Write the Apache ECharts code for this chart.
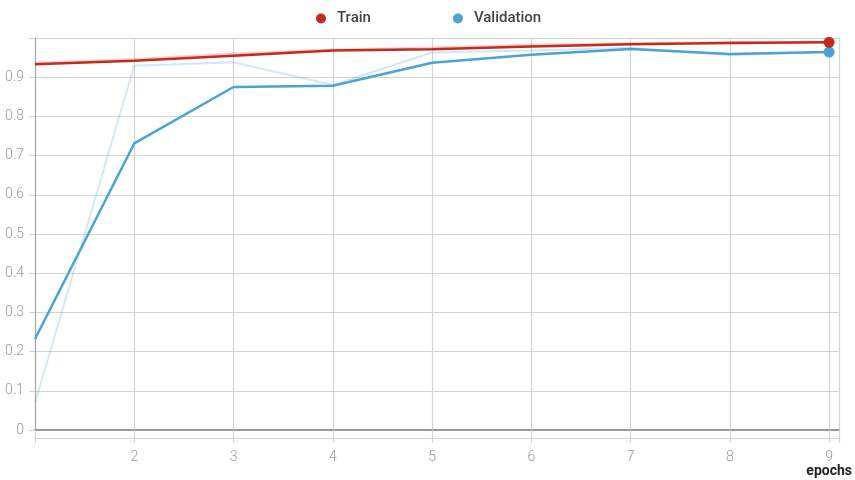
<!DOCTYPE html>
<html>
<head>
<meta charset="utf-8">
<script src="https://cdn.jsdelivr.net/npm/echarts@6/dist/echarts.min.js"></script>
<style>
  html, body { margin: 0; padding: 0; background: #fff; }
  #chart { width: 855px; height: 480px; }
</style>
</head>
<body>
<div id="chart"></div>
<script>
// Training curves: raw values (faint) and smoothed values (solid) per epoch
const epochs = [1, 2, 3, 4, 5, 6, 7, 8, 9];
const trainRaw = [0.936, 0.946, 0.960, 0.970, 0.975, 0.982, 0.986, 0.989, 0.990];
const trainSmoothed = [0.933, 0.942, 0.955, 0.968, 0.971, 0.978, 0.984, 0.987, 0.989];
const valRaw = [0.069, 0.929, 0.938, 0.880, 0.963, 0.968, 0.975, 0.956, 0.965];
const valSmoothed = [0.232, 0.731, 0.875, 0.878, 0.937, 0.957, 0.972, 0.959, 0.964];
const yTicks = [0, 0.1, 0.2, 0.3, 0.4, 0.5, 0.6, 0.7, 0.8, 0.9];
const xTicks = [2, 3, 4, 5, 6, 7, 8, 9];

const TRAIN = '#c42a1d';
const VAL = '#4aa3d4';
const GRID = '#d4d4d4';
const pair = (ys) => epochs.map((x, i) => [x, ys[i]]);
const lastOnly = (n) => (v, p) => (p.dataIndex === n - 1 ? 11 : 0);

const chart = echarts.init(document.getElementById('chart'), null, { renderer: 'canvas' });

const axisLabelStyle = { color: '#9a9a9a', fontSize: 14, fontWeight: 300, fontFamily: 'Roboto' };

chart.setOption({
  animation: false,
  legend: {
    data: ['Train', 'Validation'],
    top: 6,
    left: 311,
    icon: 'circle',
    itemWidth: 10,
    itemHeight: 10,
    itemGap: 82,
    textStyle: {
      color: '#444', fontSize: 15, fontWeight: 500, fontFamily: 'Roboto',
      padding: [0, 0, 0, 6]
    }
  },
  grid: { left: 35, right: 15, top: 38, bottom: 50 },
  xAxis: [
    {
      type: 'value', min: 1, max: 9.1, interval: 1,
      axisLine: { show: true, lineStyle: { color: '#999', width: 2 } },
      axisTick: { show: true, inside: false, length: 13, lineStyle: { color: GRID, width: 1.2 } },
      axisLabel: { show: false },
      splitLine: { show: true, lineStyle: { color: GRID, width: 1.2 } }
    },
    {
      type: 'value', min: 1, max: 9.1, interval: 1, position: 'bottom', offset: 8,
      axisLine: { show: true, lineStyle: { color: GRID, width: 1 } },
      axisTick: { show: false },
      splitLine: { show: false },
      axisLabel: {
        ...axisLabelStyle, margin: 12,
        formatter: (v) => (xTicks.includes(v) ? String(v) : '')
      },
      name: 'epochs',
      nameLocation: 'end',
      nameGap: 13,
      nameTextStyle: {
        color: '#222', fontSize: 14, fontWeight: 'bold', fontFamily: 'Roboto',
        align: 'right', verticalAlign: 'top', padding: [26, 0, 0, 0]
      }
    }
  ],
  yAxis: {
    type: 'value', min: 0, max: 1.0, interval: 0.1,
    axisLine: { show: true, onZero: false, lineStyle: { color: '#a8a8a8', width: 1.2 } },
    axisTick: { show: true, inside: false, length: 6, lineStyle: { color: GRID, width: 1.2 } },
    splitLine: { show: true, lineStyle: { color: GRID, width: 1.2 } },
    axisLabel: {
      ...axisLabelStyle, margin: 11,
      formatter: (v) => {
        const t = yTicks.find((k) => Math.abs(k - v) < 1e-9);
        return t === undefined ? '' : String(t);
      }
    }
  },
  series: [
    {
      name: 'Train raw', type: 'line', xAxisIndex: 0, data: pair(trainRaw),
      showSymbol: false, silent: true,
      lineStyle: { color: 'rgba(196,42,29,0.22)', width: 2.5 }, z: 1
    },
    {
      name: 'Validation raw', type: 'line', xAxisIndex: 0, data: pair(valRaw),
      showSymbol: false, silent: true,
      lineStyle: { color: 'rgba(74,163,212,0.25)', width: 2 }, z: 1
    },
    {
      name: 'Train', type: 'line', xAxisIndex: 0, data: pair(trainSmoothed),
      symbol: 'circle', symbolSize: lastOnly(trainSmoothed.length), showAllSymbol: true,
      itemStyle: { color: TRAIN },
      lineStyle: { color: TRAIN, width: 2.5 }, z: 3
    },
    {
      name: 'Validation', type: 'line', xAxisIndex: 0, data: pair(valSmoothed),
      symbol: 'circle', symbolSize: lastOnly(valSmoothed.length), showAllSymbol: true,
      itemStyle: { color: VAL },
      lineStyle: { color: VAL, width: 2.5 }, z: 2
    }
  ]
});
</script>
</body>
</html>
